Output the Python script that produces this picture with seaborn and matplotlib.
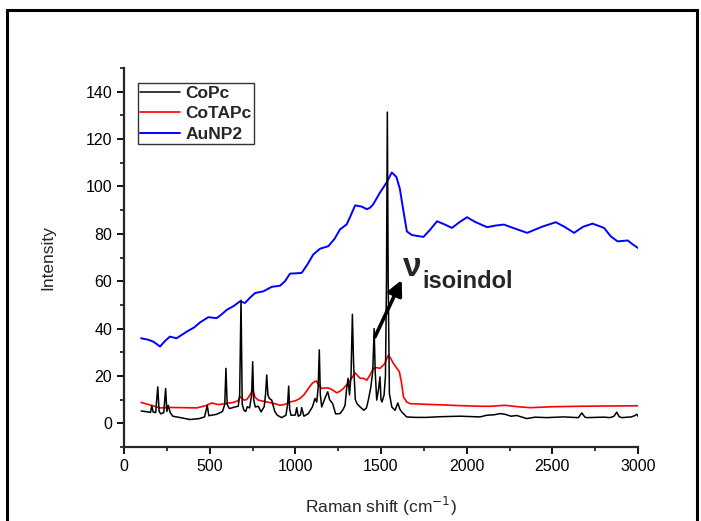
import numpy as np
import matplotlib
matplotlib.use('Agg')
import matplotlib.pyplot as plt
from matplotlib.patches import Rectangle
from matplotlib.ticker import MultipleLocator
import seaborn as sns

# CoPc spectrum (black)
copc_x = [100, 140, 155, 162, 170, 185, 197, 205, 215, 232, 243, 250, 258, 270, 285, 330, 385, 440, 470,
          486, 495, 540, 575, 588, 595, 602, 615, 648, 667, 675, 683, 690, 700, 710, 720, 733, 745, 751,
          757, 766, 784, 800, 818, 826, 833, 840, 848, 862, 880, 895, 920, 945, 955, 961, 967, 975, 1000,
          1008, 1017, 1030, 1037, 1050, 1076, 1100, 1115, 1125, 1133, 1140, 1146, 1154, 1165, 1175, 1189,
          1200, 1218, 1235, 1261, 1280, 1290, 1300, 1308, 1316, 1325, 1333, 1340, 1350, 1360, 1378, 1400,
          1415, 1426, 1440, 1452, 1460, 1466, 1475, 1485, 1494, 1500, 1506, 1518, 1526, 1532, 1537, 1542,
          1549, 1563, 1582, 1590, 1598, 1610, 1621, 1650, 1700, 1767, 1850, 1961, 2050, 2078, 2117, 2160,
          2195, 2224, 2259, 2292, 2351, 2400, 2467, 2565, 2652, 2672, 2690, 2701, 2800, 2837, 2860, 2876,
          2890, 2905, 2960, 2980, 2993, 3000]
copc_y = [5.2, 4.8, 4.6, 7.5, 4.8, 4.5, 15.4, 5.0, 4.0, 4.5, 14.7, 5.0, 7.6, 4.5, 3.0, 2.4, 1.6, 2.0, 2.7,
          7.6, 3.2, 3.8, 5.0, 8.0, 23.2, 8.0, 6.2, 6.9, 7.2, 12.0, 52.0, 8.0, 5.5, 5.0, 7.0, 6.5, 12.0, 26.0,
          10.0, 6.9, 7.2, 4.8, 7.0, 12.0, 20.4, 12.0, 10.5, 9.8, 5.0, 3.4, 2.4, 3.4, 8.0, 15.7, 6.0, 3.4, 3.5,
          6.6, 3.0, 3.5, 6.6, 3.0, 4.1, 7.0, 10.5, 9.0, 15.0, 31.0, 12.0, 6.9, 9.0, 11.0, 13.3,
          10.0, 8.3, 4.0, 4.1, 6.0, 7.6, 15.0, 19.0, 12.0, 20.0, 46.0, 25.0, 10.0, 8.3, 6.9, 5.5,
          6.5, 9.8, 15.0, 22.0, 40.0, 22.0, 9.8, 14.0, 19.6, 10.0, 9.0, 12.0, 20.0, 60.0, 131.4, 60.0,
          12.6, 6.9, 5.5, 7.0, 8.6, 6.0, 4.8, 2.7, 2.5, 2.5, 2.8, 3.0, 2.8, 2.7, 3.4, 3.6,
          4.1, 3.8, 3.0, 3.3, 2.0, 2.6, 2.4, 2.7, 2.4, 4.4, 2.6, 2.4, 2.6, 2.4, 3.0, 4.7,
          2.8, 2.4, 2.7, 3.2, 3.8, 3.0]

# CoTAPc spectrum (red)
cotapc_x = [100, 150, 210, 268, 350, 424, 480, 512, 551, 600, 638, 665, 681, 700, 716, 735, 751, 765, 784,
            833, 870, 911, 940, 969, 1000, 1027, 1050, 1076, 1100, 1121, 1135, 1154, 1180, 1203, 1242, 1260,
            1280, 1310, 1349, 1378, 1397, 1417, 1436, 1455, 1475, 1494, 1520, 1543, 1560, 1572, 1590, 1607,
            1620, 1631, 1650, 1670, 1767, 1850, 1950, 2078, 2137, 2224, 2300, 2370, 2500, 2662, 2800, 3000]
cotapc_y = [8.8, 7.8, 6.5, 6.7, 6.6, 6.5, 7.5, 8.6, 7.9, 8.4, 8.8, 9.5, 11.2, 9.8, 10.0, 11.9, 14.3, 11.0, 9.8,
            9.0, 8.5, 7.6, 8.0, 9.0, 9.5, 10.5, 12.0, 14.7, 17.0, 17.9, 16.5, 14.7, 15.0, 14.7, 12.9, 13.5,
            14.7, 17.0, 21.3, 19.0, 19.0, 18.2, 20.4, 23.2, 23.5, 23.2, 25.0, 28.8, 27.0, 25.3, 23.5, 21.8,
            17.0, 11.2, 9.0, 8.3, 8.0, 7.8, 7.5, 7.2, 7.2, 7.6, 7.0, 6.6, 7.0, 7.2, 7.3, 7.4]

# AuNP2 spectrum (blue)
aunp2_x = [100, 140, 171, 190, 210, 240, 268, 307, 366, 410, 444, 492, 541, 570, 600, 640, 677, 706, 735,
           765, 813, 862, 911, 940, 969, 1000, 1037, 1070, 1105, 1144, 1193, 1230, 1261, 1300, 1325, 1349,
           1387, 1417, 1436, 1455, 1494, 1533, 1563, 1590, 1610, 1630, 1651, 1680, 1720, 1748, 1790, 1827,
           1870, 1914, 1960, 2002, 2050, 2119, 2170, 2217, 2290, 2353, 2440, 2520, 2570, 2627, 2680, 2735,
           2802, 2840, 2881, 2940, 2970, 3000]
aunp2_y = [35.9, 35.3, 34.5, 33.5, 32.4, 34.8, 36.6, 35.9, 38.7, 40.5, 42.6, 44.8, 44.4, 46.0, 47.9, 49.5, 51.5, 50.8, 53.0,
           55.0, 55.7, 57.6, 58.1, 60.0, 63.2, 63.3, 63.5, 67.0, 71.3, 73.7, 74.8, 78.0, 81.9, 84.0, 88.0, 92.0,
           91.5, 90.4, 91.0, 92.5, 97.4, 101.7, 105.9, 104.0, 99.0, 90.0, 81.0, 79.5, 79.0, 78.7, 82.0, 85.3,
           84.0, 82.5, 85.0, 87.0, 85.0, 82.8, 83.5, 83.9, 82.0, 80.4, 83.0, 84.9, 83.0, 80.4, 83.0, 84.3,
           82.5, 79.0, 76.8, 77.2, 75.5, 74.0]

sns.set_style('ticks')
plt.rcParams['font.family'] = ['Liberation Sans', 'DejaVu Sans']

fig = plt.figure(figsize=(7.01, 5.21), dpi=100)
ax = fig.add_axes([124/701, 1 - 447/521, 514/701, (447 - 68)/521])

# порядок отрисовки: синий снизу, черный сверху
sns.lineplot(x=aunp2_x, y=aunp2_y, ax=ax, color='#0000ff', lw=1.4, label='AuNP2', zorder=2)
sns.lineplot(x=cotapc_x, y=cotapc_y, ax=ax, color='#ff0000', lw=1.2, label='CoTAPc', zorder=3)
sns.lineplot(x=copc_x, y=copc_y, ax=ax, color='black', lw=1.1, label='CoPc', zorder=4)

ax.set_xlim(0, 3000)
ax.set_ylim(-10, 150)
ax.xaxis.set_major_locator(MultipleLocator(500))
ax.xaxis.set_minor_locator(MultipleLocator(250))
ax.yaxis.set_major_locator(MultipleLocator(20))
ax.yaxis.set_minor_locator(MultipleLocator(10))
ax.set_yticks([0, 20, 40, 60, 80, 100, 120, 140])

sns.despine(ax=ax)
for s in ['left', 'bottom']:
    ax.spines[s].set_linewidth(1.6)
ax.tick_params(which='major', direction='out', length=5, width=1.3, labelsize=11.5, colors='black')
ax.tick_params(which='minor', direction='out', length=3, width=1.3)

ax.set_xlabel('Raman shift (cm$^{-1}$)', fontsize=12.5, labelpad=15)
ax.set_ylabel('Intensity', fontsize=12.5, labelpad=22)

handles, labels = ax.get_legend_handles_labels()
leg = ax.legend(handles[::-1], labels[::-1], loc='upper left', bbox_to_anchor=(0.027, 0.960),
                frameon=True, fancybox=False, edgecolor='black', handlelength=2.3,
                prop={'weight': 'bold', 'size': 12.5}, borderpad=0.15, labelspacing=0.3,
                handletextpad=0.3, borderaxespad=0)
leg.get_frame().set_linewidth(1.0)

# стрелка и подпись
ax.annotate('', xy=(1621, 60.5), xytext=(1465, 36.5),
            arrowprops=dict(arrowstyle='-|>,head_length=0.9,head_width=0.45', lw=2.6, color='black',
                            shrinkA=0, shrinkB=0), zorder=6)
ax.text(1627, 62, 'ν', fontsize=24, fontweight='bold', va='baseline', ha='left')
ax.text(1740, 57.3, 'isoindol', fontsize=17, fontweight='bold', va='baseline', ha='left')

# рамка страницы
fig.add_artist(Rectangle((7/701, -0.05), 690/701, 1.05 - 10/521, transform=fig.transFigure,
                         fill=False, lw=2.2, edgecolor='black'))

fig.savefig('out.png', dpi=100)
